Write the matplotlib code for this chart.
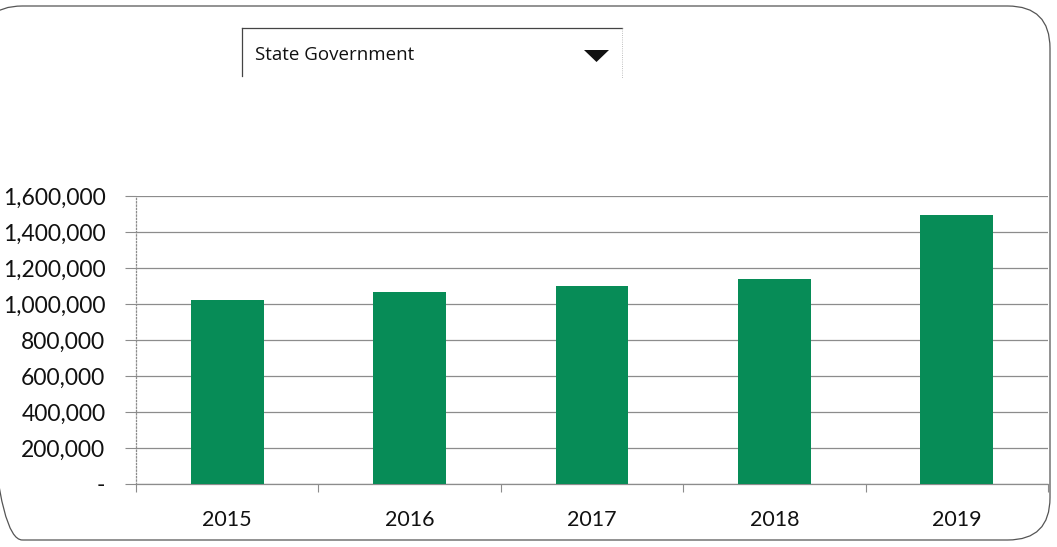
import matplotlib
matplotlib.use('Agg')
import matplotlib.pyplot as plt
import matplotlib.ticker as mtick
from matplotlib.patches import FancyBboxPatch, Polygon
import numpy as np

plt.rcParams['font.family'] = ['Lato', 'DejaVu Sans']

# data
years = ['2015', '2016', '2017', '2018', '2019']
values = [1022000, 1068000, 1100000, 1137000, 1497000]
yticks = [0, 200000, 400000, 600000, 800000, 1000000, 1200000, 1400000, 1600000]
selector_label = 'State Government'

bar_color = '#078c57'
grid_color = '#8c8c8c'
W, H = 1057, 547

fig = plt.figure(figsize=(W / 100, H / 100), dpi=100)

# axes placed in pixel coords
left, right, top, bottom = 136, 1048, 196, 484
ax = fig.add_axes([left / W, 1 - bottom / H, (right - left) / W, (bottom - top) / H])

x = np.arange(len(years))
ax.bar(x, values, width=0.4, color=bar_color, zorder=3)

ax.set_xlim(-0.5, len(years) - 0.5)
ax.set_ylim(0, 1600000)
ax.set_yticks(yticks)


def fmt(v, pos):
    return '-' if v == 0 else '{:,.0f}'.format(v)


ax.yaxis.set_major_formatter(mtick.FuncFormatter(fmt))
ax.grid(axis='y', color=grid_color, linewidth=0.9, zorder=0)

# category ticks sit between categories, labels centred (Excel style)
ax.set_xticks(np.arange(-0.5, len(years), 1.0))
ax.set_xticklabels([])
ax.set_xticks(x, minor=True)
ax.set_xticklabels(years, minor=True, fontsize=15.5, color='#111111')
ax.tick_params(axis='x', which='minor', length=0, pad=19)
ax.tick_params(axis='x', which='major', length=6, color=grid_color, width=0.8)
ax.tick_params(axis='y', length=8, color=grid_color, width=0.8, labelsize=16.5,
               labelcolor='#111111', pad=14)

for s in ['top', 'right']:
    ax.spines[s].set_visible(False)
ax.spines['left'].set_color(grid_color)
ax.spines['left'].set_linestyle(':')
ax.spines['left'].set_linewidth(0.9)
ax.spines['bottom'].set_color(grid_color)
ax.spines['bottom'].set_linewidth(0.9)

# outer rounded frame
frame = FancyBboxPatch((-20 / W, 1 - 540 / H), (1050 + 20) / W, (540 - 6) / H,
                       boxstyle='round,pad=0,rounding_size=0.04',
                       transform=fig.transFigure, fill=False,
                       edgecolor='#555555', linewidth=0.9, mutation_aspect=W / H)
fig.patches.append(frame)

# dropdown selector
def px(xp, yp):
    return (xp / W, 1 - yp / H)

fig.add_artist(plt.Line2D([242 / W, 622 / W], [1 - 28 / H, 1 - 28 / H],
                          color='#444444', linewidth=0.9, transform=fig.transFigure))
fig.add_artist(plt.Line2D([242 / W, 242 / W], [1 - 28 / H, 1 - 76 / H],
                          color='#444444', linewidth=0.9, transform=fig.transFigure))
fig.add_artist(plt.Line2D([622 / W, 622 / W], [1 - 28 / H, 1 - 78 / H],
                          color='#aaaaaa', linewidth=0.6, linestyle=':',
                          transform=fig.transFigure))
fig.text(255 / W, 1 - 55 / H, selector_label, fontsize=13.5, color='#111111',
         va='center', ha='left', family=['Open Sans', 'DejaVu Sans'])
tri = Polygon([px(584, 50), px(609, 50), px(596.5, 62)], closed=True,
              transform=fig.transFigure, facecolor='#111111', edgecolor='none')
fig.patches.append(tri)

fig.savefig('out.png', dpi=100)
